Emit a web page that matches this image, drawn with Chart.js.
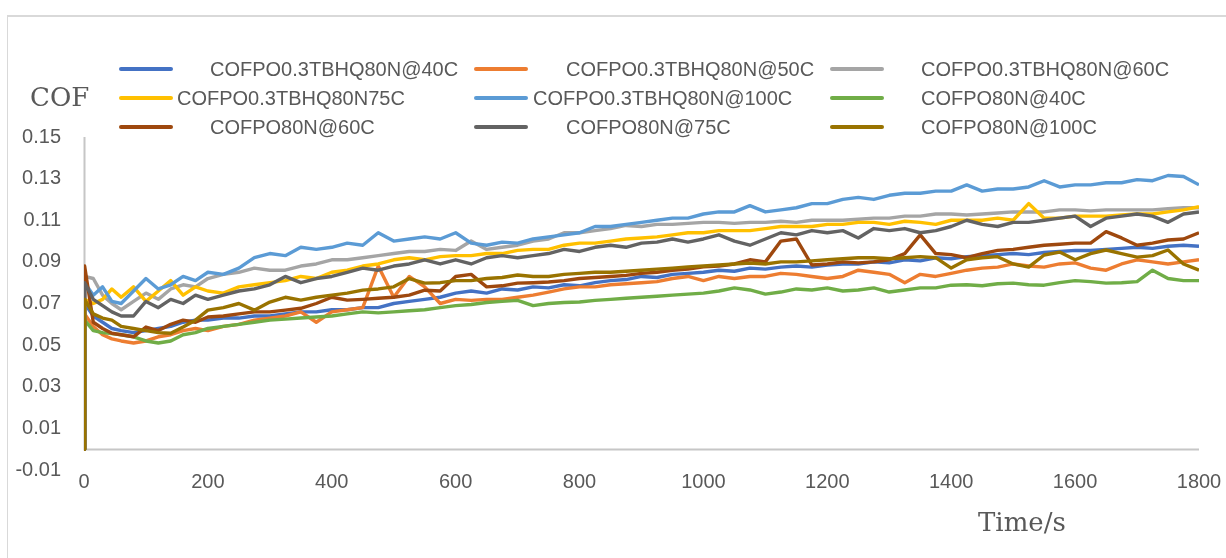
<!DOCTYPE html>
<html>
<head>
<meta charset="utf-8">
<script src="https://cdn.jsdelivr.net/npm/chart.js@4.4.1/dist/chart.umd.min.js"></script>
<style>
  body { margin: 0; background: #fff; }
  #wrap { position: relative; width: 1226px; height: 558px; overflow: hidden; background: #fff; }
  #frame { position: absolute; left: 7px; top: 15px; width: 1400px; height: 800px;
           border-left: 1px solid #d9d9d9; border-top: 2px solid #d9d9d9; }
  canvas { position: absolute; left: 0; top: 0; }
  .lg-line { position: absolute; width: 54px; height: 4px; border-radius: 2px; }
  .lg-text, .title { position: absolute; white-space: nowrap; color: #595959; }
  .lg-text { font: 20px 'Liberation Sans', Arial, sans-serif; line-height: 20px; }
  .title { font: 26px 'DejaVu Serif', serif; line-height: 26px; }
</style>
</head>
<body>
<div id="wrap">
  <div id="frame"></div>
  <canvas id="cof-chart" width="1226" height="558"></canvas>
  <div id="legend"></div>
  <div class="title" style="left:30px;top:84px">COF</div>
  <div class="title" style="left:978px;top:509px">Time/s</div>
</div>
<script>
const TIME_S = [0, 1, 15, 30, 45, 60, 80, 100, 120, 140, 160, 180, 200,
  225, 250, 275, 300, 325, 350, 375, 400, 425, 450, 475, 500, 525, 550, 575, 600,
  625, 650, 675, 700, 725, 750, 775, 800, 825, 850, 875, 900, 925, 950, 975, 1000,
  1025, 1050, 1075, 1100, 1125, 1150, 1175, 1200, 1225, 1250, 1275, 1300, 1325, 1350, 1375, 1400,
  1425, 1450, 1475, 1500, 1525, 1550, 1575, 1600, 1625, 1650, 1675, 1700, 1725, 1750, 1775, 1800];

const TBHQ_40C = [0, 0.070, 0.064, 0.061, 0.058, 0.057, 0.056, 0.057, 0.058, 0.059, 0.061, 0.062, 0.062,
  0.063, 0.063, 0.064, 0.064, 0.065, 0.066, 0.066, 0.067, 0.067, 0.068, 0.068, 0.070, 0.071, 0.072, 0.073, 0.075,
  0.076, 0.075, 0.077, 0.0765, 0.078, 0.0775, 0.079, 0.0785, 0.080, 0.081, 0.0815, 0.083, 0.0825, 0.084, 0.0845, 0.085,
  0.086, 0.0855, 0.087, 0.0865, 0.0875, 0.088, 0.0875, 0.0885, 0.089, 0.089, 0.090, 0.0895, 0.091, 0.0905, 0.092, 0.0915,
  0.0925, 0.093, 0.0935, 0.094, 0.0935, 0.0945, 0.095, 0.0955, 0.0955, 0.096, 0.0965, 0.097, 0.0965, 0.0975, 0.098, 0.0975];

const TBHQ_50C = [0, 0.065, 0.059, 0.055, 0.053, 0.052, 0.051, 0.052, 0.054, 0.055, 0.057, 0.058, 0.057,
  0.059, 0.060, 0.062, 0.063, 0.064, 0.066, 0.061, 0.066, 0.067, 0.068, 0.088, 0.073, 0.083, 0.078, 0.070, 0.072,
  0.0715, 0.072, 0.072, 0.073, 0.074, 0.0755, 0.077, 0.078, 0.078, 0.079, 0.0795, 0.080, 0.0805, 0.082, 0.083, 0.081,
  0.083, 0.082, 0.083, 0.083, 0.0845, 0.084, 0.083, 0.082, 0.083, 0.086, 0.085, 0.084, 0.080, 0.084, 0.083, 0.0845,
  0.086, 0.087, 0.0875, 0.089, 0.088, 0.0875, 0.089, 0.0895, 0.087, 0.086, 0.089, 0.091, 0.090, 0.089, 0.090, 0.091];

const TBHQ_60C = [0, 0.083, 0.082, 0.074, 0.070, 0.067, 0.071, 0.075, 0.072, 0.077, 0.079, 0.078, 0.082,
  0.084, 0.085, 0.087, 0.086, 0.086, 0.088, 0.089, 0.091, 0.091, 0.092, 0.093, 0.094, 0.095, 0.095, 0.096, 0.0955,
  0.100, 0.096, 0.097, 0.098, 0.100, 0.101, 0.104, 0.104, 0.105, 0.106, 0.1075, 0.107, 0.108, 0.108, 0.1085, 0.109,
  0.109, 0.1085, 0.109, 0.109, 0.1095, 0.109, 0.110, 0.110, 0.110, 0.1105, 0.111, 0.111, 0.112, 0.112, 0.113, 0.113,
  0.1125, 0.113, 0.1135, 0.114, 0.114, 0.114, 0.115, 0.115, 0.1145, 0.115, 0.115, 0.115, 0.115, 0.1155, 0.116, 0.116];

const TBHQ_75C = [0, 0.072, 0.070, 0.072, 0.077, 0.073, 0.078, 0.071, 0.076, 0.081, 0.074, 0.078, 0.076,
  0.075, 0.078, 0.079, 0.080, 0.081, 0.083, 0.082, 0.085, 0.086, 0.088, 0.089, 0.091, 0.092, 0.091, 0.0925, 0.093,
  0.093, 0.094, 0.094, 0.0955, 0.096, 0.096, 0.098, 0.099, 0.099, 0.100, 0.101, 0.1015, 0.102, 0.103, 0.104, 0.104,
  0.105, 0.105, 0.105, 0.106, 0.107, 0.107, 0.107, 0.108, 0.108, 0.109, 0.109, 0.108, 0.1095, 0.109, 0.108, 0.110,
  0.110, 0.110, 0.111, 0.110, 0.118, 0.111, 0.111, 0.112, 0.112, 0.112, 0.1125, 0.113, 0.113, 0.114, 0.115, 0.1165];

const TBHQ_100C = [0, 0.080, 0.074, 0.078, 0.071, 0.070, 0.076, 0.082, 0.077, 0.079, 0.083, 0.081, 0.085,
  0.084, 0.087, 0.092, 0.094, 0.093, 0.097, 0.096, 0.097, 0.099, 0.098, 0.104, 0.100, 0.101, 0.102, 0.101, 0.104,
  0.099, 0.098, 0.0995, 0.099, 0.101, 0.102, 0.103, 0.104, 0.107, 0.107, 0.108, 0.109, 0.110, 0.111, 0.111, 0.113,
  0.114, 0.114, 0.117, 0.114, 0.115, 0.116, 0.118, 0.118, 0.120, 0.121, 0.120, 0.122, 0.123, 0.123, 0.124, 0.124,
  0.127, 0.124, 0.125, 0.125, 0.126, 0.129, 0.126, 0.127, 0.127, 0.128, 0.128, 0.1295, 0.129, 0.1315, 0.131, 0.127];

const PO_40C = [0, 0.062, 0.057, 0.056, 0.0555, 0.055, 0.054, 0.052, 0.051, 0.052, 0.055, 0.056, 0.058,
  0.059, 0.060, 0.061, 0.062, 0.0625, 0.063, 0.0635, 0.064, 0.065, 0.066, 0.0655, 0.066, 0.0665, 0.067, 0.068, 0.069,
  0.0695, 0.0705, 0.071, 0.0715, 0.069, 0.070, 0.0705, 0.0707, 0.0715, 0.072, 0.0725, 0.073, 0.0735, 0.074, 0.0745, 0.075,
  0.076, 0.0775, 0.0765, 0.0745, 0.0755, 0.077, 0.0765, 0.0775, 0.076, 0.0765, 0.0775, 0.0755, 0.0765, 0.0775, 0.0775, 0.0788,
  0.079, 0.0785, 0.0795, 0.0798, 0.079, 0.0788, 0.080, 0.081, 0.0805, 0.0798, 0.080, 0.0805, 0.086, 0.082, 0.081, 0.081];

const PO_60C = [0, 0.088, 0.061, 0.058, 0.0557, 0.055, 0.054, 0.0587, 0.057, 0.060, 0.062, 0.061, 0.0635,
  0.064, 0.065, 0.066, 0.066, 0.0668, 0.0677, 0.070, 0.073, 0.0716, 0.072, 0.0725, 0.073, 0.074, 0.0764, 0.076, 0.083,
  0.084, 0.078, 0.0785, 0.0798, 0.080, 0.0803, 0.081, 0.082, 0.0825, 0.083, 0.0835, 0.0845, 0.085, 0.086, 0.0865, 0.0876,
  0.088, 0.089, 0.091, 0.090, 0.100, 0.101, 0.0885, 0.089, 0.090, 0.0895, 0.090, 0.091, 0.094, 0.103, 0.094, 0.0935,
  0.092, 0.094, 0.0955, 0.096, 0.097, 0.098, 0.0985, 0.099, 0.099, 0.1045, 0.1015, 0.098, 0.099, 0.1005, 0.101, 0.104];

const PO_75C = [0, 0.080, 0.072, 0.069, 0.066, 0.064, 0.064, 0.071, 0.068, 0.072, 0.070, 0.074, 0.072,
  0.074, 0.076, 0.077, 0.079, 0.083, 0.080, 0.082, 0.083, 0.085, 0.087, 0.086, 0.088, 0.089, 0.091, 0.089, 0.091,
  0.089, 0.092, 0.093, 0.092, 0.093, 0.094, 0.096, 0.095, 0.097, 0.098, 0.097, 0.099, 0.0995, 0.101, 0.0995, 0.101,
  0.103, 0.100, 0.098, 0.101, 0.104, 0.103, 0.105, 0.104, 0.105, 0.1015, 0.106, 0.105, 0.106, 0.104, 0.105, 0.107,
  0.110, 0.108, 0.107, 0.109, 0.109, 0.110, 0.111, 0.112, 0.107, 0.111, 0.112, 0.113, 0.112, 0.109, 0.113, 0.114];

const PO_100C = [0, 0.072, 0.065, 0.063, 0.062, 0.059, 0.058, 0.057, 0.056, 0.0557, 0.0587, 0.062, 0.0668,
  0.068, 0.070, 0.0668, 0.0707, 0.073, 0.0716, 0.073, 0.074, 0.075, 0.0764, 0.077, 0.078, 0.082, 0.0798, 0.080, 0.081,
  0.081, 0.082, 0.0825, 0.0837, 0.083, 0.083, 0.084, 0.0845, 0.085, 0.085, 0.0855, 0.086, 0.0865, 0.087, 0.0876, 0.088,
  0.0885, 0.089, 0.0894, 0.089, 0.090, 0.090, 0.0905, 0.091, 0.0915, 0.092, 0.092, 0.0915, 0.092, 0.0925, 0.092, 0.087,
  0.091, 0.092, 0.0925, 0.089, 0.0875, 0.0933, 0.0947, 0.091, 0.094, 0.0957, 0.094, 0.0923, 0.093, 0.0957, 0.089, 0.086];

const SERIES_NAMES = ['COFPO0.3TBHQ80N@40C', 'COFPO0.3TBHQ80N@50C', 'COFPO0.3TBHQ80N@60C',
  'COFPO0.3TBHQ80N75C', 'COFPO0.3TBHQ80N@100C', 'COFPO80N@40C',
  'COFPO80N@60C', 'COFPO80N@75C', 'COFPO80N@100C'];
const SERIES_VALUES = [TBHQ_40C, TBHQ_50C, TBHQ_60C, TBHQ_75C, TBHQ_100C, PO_40C, PO_60C, PO_75C, PO_100C];

const X_TICKS = [0, 200, 400, 600, 800, 1000, 1200, 1400, 1600, 1800];
const Y_TICKS = [-0.01, 0.01, 0.03, 0.05, 0.07, 0.09, 0.11, 0.13, 0.15];

const SERIES_COLORS = ['#4472C4', '#ED7D31', '#A5A5A5', '#FFC000', '#5B9BD5',
  '#70AD47', '#9E480E', '#636363', '#997300'];

// legend placement (3 x 3, like the Excel legend)
const LEGEND_ROW_Y = [69, 98, 127];
const LEGEND_LINE_X = [119, 474, 830];
const LEGEND_TEXT_X = [[210, 566, 921], [177, 533, 921], [210, 566, 921]];

// x axis sits on y = 0, y axis runs from the top down to it
const axisLines = {
  id: 'axisLines',
  beforeDatasetsDraw(chart) {
    const {ctx, chartArea, scales} = chart;
    const zero = Math.round(scales.y.getPixelForValue(0)) + 0.5;
    const left = Math.round(chartArea.left) + 0.5;
    ctx.save();
    ctx.strokeStyle = '#c6c6c6';
    ctx.lineWidth = 2;
    ctx.beginPath();
    ctx.moveTo(left, chartArea.top);
    ctx.lineTo(left, zero);
    ctx.lineTo(chartArea.right, zero);
    ctx.stroke();
    ctx.restore();
  }
};

function addCofChart() {
  const ctx = document.getElementById('cof-chart');

  const datasets = SERIES_NAMES.map((name, i) => ({
    label: name,
    data: TIME_S.map((t, j) => ({x: t, y: SERIES_VALUES[i][j]})),
    borderColor: SERIES_COLORS[i],
    backgroundColor: SERIES_COLORS[i],
    borderWidth: 3.4,
    borderJoinStyle: 'round',
    pointRadius: 0,
    tension: 0,
    // later series on top, as in the original
    order: SERIES_NAMES.length - i
  }));

  new Chart(ctx, {
    type: 'line',
    data: {datasets: datasets},
    options: {
      responsive: false,
      animation: false,
      layout: {padding: {top: 137, right: 27, bottom: 0, left: 0}},
      plugins: {legend: {display: false}, tooltip: {enabled: false}},
      scales: {
        x: {
          type: 'linear',
          min: 0,
          max: 1800,
          grid: {display: false, drawTicks: false},
          border: {display: false},
          afterFit: s => { s.height = 88; },
          afterBuildTicks: s => { s.ticks = X_TICKS.map(v => ({value: v})); },
          ticks: {
            padding: 0,
            color: '#595959',
            font: {family: 'Liberation Sans', size: 20},
            maxRotation: 0,
            autoSkip: false,
            callback: v => String(v)
          }
        },
        y: {
          min: -0.01,
          max: 0.15,
          grid: {display: false, drawTicks: false},
          border: {display: false},
          afterFit: s => { s.width = 84; },
          afterBuildTicks: s => { s.ticks = Y_TICKS.map(v => ({value: v})); },
          ticks: {
            padding: 23,
            color: '#595959',
            font: {family: 'Liberation Sans', size: 20},
            callback: v => v.toFixed(2)
          }
        }
      }
    },
    plugins: [axisLines]
  });
}

function addLegend() {
  const box = document.getElementById('legend');
  SERIES_NAMES.forEach((name, i) => {
    const row = Math.floor(i / 3);
    const col = i % 3;
    const line = document.createElement('div');
    line.className = 'lg-line';
    line.style.left = LEGEND_LINE_X[col] + 'px';
    line.style.top = (LEGEND_ROW_Y[row] - 2) + 'px';
    line.style.background = SERIES_COLORS[i];
    box.appendChild(line);
    const text = document.createElement('div');
    text.className = 'lg-text';
    text.style.left = LEGEND_TEXT_X[row][col] + 'px';
    text.style.top = (LEGEND_ROW_Y[row] - 10) + 'px';
    text.textContent = name;
    box.appendChild(text);
  });
}

addCofChart();
addLegend();
</script>
</body>
</html>
